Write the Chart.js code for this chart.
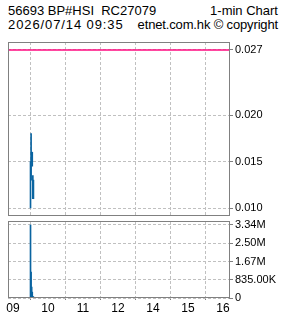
<!DOCTYPE html>
<html>
<head>
<meta charset="utf-8">
<script src="https://cdn.jsdelivr.net/npm/chart.js@4/dist/chart.umd.min.js"></script>
<style>
  body { margin: 0; background: #fff; width: 285px; height: 318px; position: relative; overflow: hidden; font-family: 'Liberation Sans', sans-serif; }
  .hdr { position: absolute; left: 8px; right: 7px; font-size: 13px; line-height: 14px; color: #000; white-space: pre; }
  .hdr .r { position: absolute; right: 0; top: 0; }
  canvas { position: absolute; left: 0; }
</style>
</head>
<body>
<div class="hdr" style="top:4px">56693 BP#HSI  RC27079<span class="r">1-min Chart</span></div>
<div class="hdr" style="top:18px"><span style="letter-spacing:0.9px">2026/07/14 09:35</span><span class="r" style="letter-spacing:-0.15px">etnet.com.hk © copyright</span></div>
<canvas id="priceChart" width="285" height="184" style="top:36px"></canvas>
<canvas id="volumeChart" width="285" height="100" style="top:218px"></canvas>
<script>
const times = ['09:30', '09:31', '09:32', '09:33', '09:34', '09:35'];
const highs = [0.015, 0.018, 0.016, 0.016, 0.0135, 0.013];
const lows = [0.010, 0.013, 0.015, 0.0145, 0.011, 0.011];
const volumes = [3340000, 1190000, 500000, 270000, 80000, 50000];
const prevClose = 0.027;

const priceTicks = [0.010, 0.015, 0.020, 0.027];
const volumeTicks = [0, 835000, 1670000, 2500000, 3340000];
const volumeTickLabels = ['0', '835.00K', '1.67M', '2.50M', '3.34M'];
const hourTicks = ['09:00', '10:00', '11:00', '12:00', '14:00', '15:00', '16:00'];
const hourLabels = ['09', '10', '11', '12', '14', '15', '16'];

const colors = {
  bar: '#0a64a0',
  prevClose: '#ff0a80',
  grid: '#c0c0c0',
  frame: '#808080'
};

// minutes since 09:00, lunch hour (12:00-13:00) squeezed out
function tradeMinute(t) {
  const [h, m] = t.split(':').map(Number);
  let mins = (h - 9) * 60 + m;
  if (h >= 13) mins -= 60;
  return mins;
}

const xMin = -8.6;
const xMax = 370.3;

Chart.defaults.font.family = "'Liberation Sans', sans-serif";
Chart.defaults.color = '#000';

const framePlugin = {
  id: 'frame',
  afterDatasetsDraw(chart) {
    const { ctx, chartArea: a } = chart;
    ctx.save();
    ctx.strokeStyle = colors.frame;
    ctx.lineWidth = 1;
    ctx.strokeRect(a.left + 0.5, a.top + 0.5, a.right - a.left, a.bottom - a.top - 1);
    ctx.restore();
  }
};

function hourAxis(showLabels) {
  return {
    type: 'linear',
    min: xMin,
    max: xMax,
    offset: false,
    afterBuildTicks: s => { s.ticks = hourTicks.map(t => ({ value: tradeMinute(t) })); },
    afterFit: s => { s.height = showLabels ? 20 : 0; s.paddingLeft = 0; s.paddingRight = 0; },
    ticks: {
      display: showLabels,
      autoSkip: false,
      maxRotation: 0,
      padding: 1,
      font: { size: 12 },
      callback: (v, i) => hourLabels[i]
    },
    grid: { color: colors.grid, drawTicks: showLabels, tickLength: 2, tickColor: colors.frame, tickBorderDash: [] },
    border: { display: false, dash: [3, 2] }
  };
}

function rightAxis(min, max, tickValues, labelFn) {
  return {
    type: 'linear',
    position: 'right',
    min,
    max,
    afterBuildTicks: s => { s.ticks = tickValues.map(v => ({ value: v })); },
    afterFit: s => { s.width = 56; s.paddingTop = 0; s.paddingBottom = 0; },
    ticks: { padding: 2, font: { size: 11 }, callback: labelFn },
    grid: { color: colors.grid, tickLength: 4, tickColor: colors.frame, tickBorderDash: [] },
    border: { display: false, dash: [3, 2] }
  };
}

const commonOptions = {
  responsive: false,
  animation: false,
  devicePixelRatio: 1,
  plugins: { legend: { display: false }, tooltip: { enabled: false } }
};

new Chart(document.getElementById('priceChart'), {
  type: 'bar',
  data: {
    datasets: [
      {
        type: 'line',
        data: [{ x: xMin, y: prevClose }, { x: xMax, y: prevClose }],
        borderColor: colors.prevClose,
        borderWidth: 1.5,
        pointRadius: 0
      },
      {
        type: 'bar',
        data: times.map((t, i) => ({ x: tradeMinute(t), y: [lows[i], highs[i]] })),
        backgroundColor: colors.bar,
        barThickness: 1,
        grouped: false
      }
    ]
  },
  options: {
    ...commonOptions,
    layout: { padding: { left: 8, top: 6, right: 0, bottom: 4 } },
    scales: {
      x: hourAxis(false),
      y: rightAxis(0.00914, 0.02786, priceTicks, v => v.toFixed(3))
    }
  },
  plugins: [framePlugin]
});

new Chart(document.getElementById('volumeChart'), {
  type: 'bar',
  data: {
    datasets: [
      {
        data: times.map((t, i) => ({ x: tradeMinute(t), y: volumes[i] })),
        backgroundColor: colors.bar,
        barThickness: 1,
        grouped: false
      }
    ]
  },
  options: {
    ...commonOptions,
    layout: { padding: { left: 8, top: 3, right: 0, bottom: 0 } },
    scales: {
      x: hourAxis(true),
      y: rightAxis(0, 3520000, volumeTicks, (v, i) => volumeTickLabels[i])
    }
  },
  plugins: [framePlugin]
});
</script>
</body>
</html>
